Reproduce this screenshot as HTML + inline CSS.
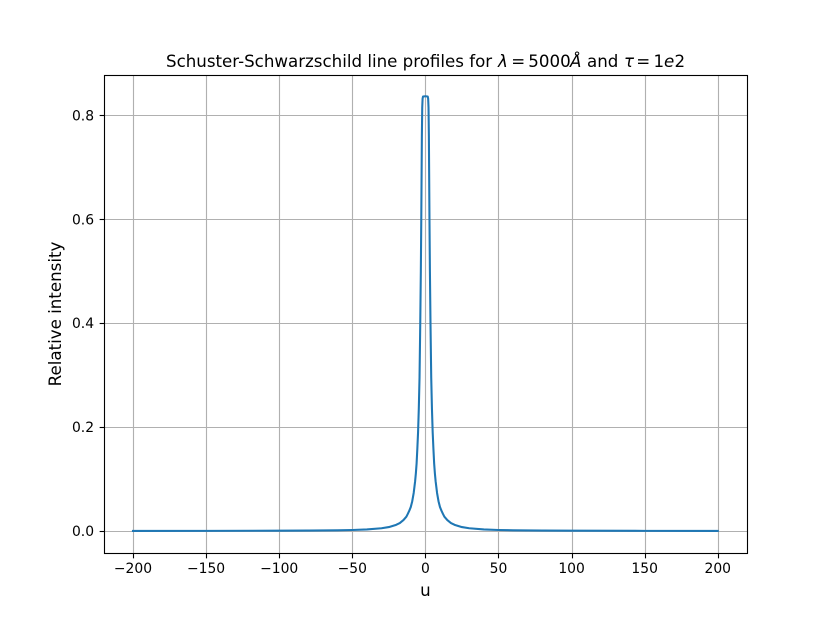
<!DOCTYPE html>
<html lang="en">
<head>
<meta charset="utf-8">
<title>Schuster-Schwarzschild line profiles</title>
<style>
html,body{margin:0;padding:0;background:#fff;width:830px;height:621px;overflow:hidden}
svg{display:block}
text{font-family:"DejaVu Sans","Liberation Sans",sans-serif;fill:#000}
</style>
</head>
<body>
<svg id="chart" xmlns="http://www.w3.org/2000/svg" width="830" height="621" viewBox="0 0 830 621">
  <rect x="0" y="0" width="830" height="621" fill="#fff"/>
  <rect x="104.5" y="75.5" width="643" height="478" fill="#fff"/>
  <defs><clipPath id="plot-clip"><rect x="103.75" y="74.52" width="643.25" height="478.17"/></clipPath></defs>
  <g id="grid"></g>
  <g id="series" clip-path="url(#plot-clip)"></g>
  <g id="ticks"></g>
  <rect x="104.5" y="75.5" width="643" height="478" fill="none" stroke="#000" stroke-width="1.11"/>
  <g font-size="16.67">
    <text x="166" y="67" font-size="16.67">Schuster-Schwarzschild line profiles for</text>
    <text x="498" y="67" font-size="16.67" font-style="italic">λ</text>
    <text x="511.3" y="67" font-size="16.67">=</text>
    <text x="528.3" y="67" font-size="16.67">5000</text>
    <text x="570" y="67" font-size="16.67" font-style="italic">Å</text>
    <text x="587" y="67" font-size="16.67">and</text>
    <text x="624" y="67" font-size="16.67" font-style="italic">τ</text>
    <text x="636.3" y="67" font-size="16.67">=</text>
    <text x="653.5" y="67" font-size="16.67">1</text>
    <text x="664" y="67" font-size="16.67" font-style="italic">e</text>
    <text x="674.5" y="67" font-size="16.67">2</text>
  </g>
  <text x="425.4" y="596" font-size="16.67" text-anchor="middle">u</text>
  <text transform="translate(61,314) rotate(-90)" font-size="16.67" text-anchor="middle">Relative intensity</text>
</svg>
<script>
const xTicks = [-200, -150, -100, -50, 0, 50, 100, 150, 200];
const yTicks = [0.0, 0.2, 0.4, 0.6, 0.8];
const xDomain = [-220, 220];
const yDomain = [-0.0418, 0.8783];
const uValues = [-200, -150, -100, -80, -60, -50, -40, -30, -25, -20, -17.5, -15, -13, -12, -11, -10, -9, -8, -7, -6.5, -6, -5.5, -5, -4.5, -4, -3.5, -3.1, -2.8, -2.4, -2.15, -1.9, -1.6, 0, 1.6, 1.9, 2.15, 2.4, 2.8, 3.1, 3.5, 4, 4.5, 5, 5.5, 6, 6.5, 7, 8, 9, 10, 11, 12, 13, 15, 17.5, 20, 25, 30, 40, 50, 60, 80, 100, 150, 200];
const intensity = [0.00012, 0.00021, 0.00048, 0.00075, 0.0013, 0.0019, 0.003, 0.0052, 0.0075, 0.0118, 0.0152, 0.021, 0.0275, 0.033, 0.039, 0.046, 0.057, 0.073, 0.096, 0.111, 0.13, 0.158, 0.19, 0.235, 0.295, 0.4, 0.5, 0.6, 0.76, 0.815, 0.832, 0.836, 0.8365, 0.836, 0.832, 0.815, 0.76, 0.6, 0.5, 0.4, 0.295, 0.235, 0.19, 0.158, 0.13, 0.111, 0.096, 0.073, 0.057, 0.046, 0.039, 0.033, 0.0275, 0.021, 0.0152, 0.0118, 0.0075, 0.0052, 0.003, 0.0019, 0.0013, 0.00075, 0.00048, 0.00021, 0.00012];

const NS = 'http://www.w3.org/2000/svg';
const plot = { left: 103.75, right: 747, top: 74.52, bottom: 552.69 };
function xScale(v) { return plot.left + (v - xDomain[0]) / (xDomain[1] - xDomain[0]) * (plot.right - plot.left); }
function yScale(v) { return plot.bottom - (v - yDomain[0]) / (yDomain[1] - yDomain[0]) * (plot.bottom - plot.top); }
function snap(p) { return Math.round(p) + 0.5; }
function make(tag, attrs) {
  const el = document.createElementNS(NS, tag);
  for (const k in attrs) el.setAttribute(k, attrs[k]);
  return el;
}
const grid = document.getElementById('grid');
const ticks = document.getElementById('ticks');
const series = document.getElementById('series');
const frameLeft = snap(plot.left);
const frameRight = snap(plot.right);
const frameTop = snap(plot.top);
const frameBottom = snap(plot.bottom);

xTicks.forEach(function (t) {
  const x = snap(xScale(t));
  const g = make('line', { x1: x, x2: x, y1: frameTop, y2: frameBottom, stroke: '#b0b0b0', 'stroke-width': 1.11 });
  
  
  grid.appendChild(g);
  const m = make('line', { x1: x, x2: x, y1: frameBottom, y2: frameBottom + 4.86, stroke: '#000', 'stroke-width': 1.11 });
  
  
  ticks.appendChild(m);
  const l = make('text', { x: xScale(t), y: 573, 'font-size': 13.89, 'text-anchor': 'middle' });
  
  
  l.textContent = String(t).replace('-', '\u2212');
  ticks.appendChild(l);
});

yTicks.forEach(function (t) {
  const y = snap(yScale(t));
  const g = make('line', { x1: frameLeft, x2: frameRight, y1: y, y2: y, stroke: '#b0b0b0', 'stroke-width': 1.11 });
  
  
  grid.appendChild(g);
  const m = make('line', { x1: frameLeft - 4.86, x2: frameLeft, y1: y, y2: y, stroke: '#000', 'stroke-width': 1.11 });
  
  
  ticks.appendChild(m);
  const l = make('text', { x: plot.left - 9.7, y: yScale(t) + 5.1, 'font-size': 13.89, 'text-anchor': 'end' });
  
  
  l.textContent = t.toFixed(1);
  ticks.appendChild(l);
});

const pts = uValues.map(function (u, i) { return xScale(u).toFixed(2) + ',' + yScale(intensity[i]).toFixed(2); }).join(' ');
const line = make('polyline', { points: pts, fill: 'none', stroke: '#1f77b4', 'stroke-width': 2.08, 'stroke-linejoin': 'round', 'stroke-linecap': 'square' });


series.appendChild(line);
</script>
</body>
</html>
